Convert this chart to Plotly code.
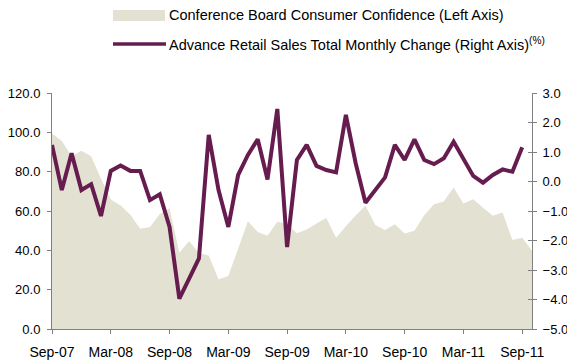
import plotly.graph_objects as go

months = ["Sep-07","Oct-07","Nov-07","Dec-07","Jan-08","Feb-08","Mar-08","Apr-08","May-08","Jun-08",
          "Jul-08","Aug-08","Sep-08","Oct-08","Nov-08","Dec-08","Jan-09","Feb-09","Mar-09","Apr-09",
          "May-09","Jun-09","Jul-09","Aug-09","Sep-09","Oct-09","Nov-09","Dec-09","Jan-10","Feb-10",
          "Mar-10","Apr-10","May-10","Jun-10","Jul-10","Aug-10","Sep-10","Oct-10","Nov-10","Dec-10",
          "Jan-11","Feb-11","Mar-11","Apr-11","May-11","Jun-11","Jul-11","Aug-11","Sep-11","Oct-11"]

confidence = [99.5, 95.6, 87.8, 90.6, 87.9, 76.4, 65.9, 62.8, 58.1, 51.0,
              51.9, 58.5, 61.4, 38.8, 44.7, 38.6, 37.4, 25.3, 26.9, 40.8,
              54.8, 49.3, 47.4, 54.5, 53.4, 48.7, 50.6, 53.6, 56.5, 46.4,
              52.3, 57.7, 62.7, 52.9, 50.4, 53.2, 48.6, 49.9, 57.8, 63.4,
              64.8, 72.0, 63.8, 66.0, 61.7, 57.6, 59.2, 45.2, 46.4, 39.8]

retail = [1.24, -0.29, 0.96, -0.29, -0.09, -1.17, 0.36, 0.54, 0.36, 0.36,
          -0.63, -0.43, -1.54, -3.97, -3.29, -2.61, 1.58, -0.29, -1.54, 0.22,
          0.90, 1.43, 0.07, 2.46, -2.22, 0.73, 1.24, 0.53, 0.39, 0.31,
          2.26, 0.62, -0.72, -0.27, 0.14, 1.24, 0.73, 1.43, 0.73, 0.59,
          0.79, 1.35, 0.79, 0.19, -0.04, 0.22, 0.41, 0.33, 1.16, None]

tick_idx = list(range(0, 49, 6))
tick_text = [months[i] for i in tick_idx]

W, H = 567, 364
L, R, T, B = 52, 35, 93, 35
FONT = "Liberation Sans, Arial, sans-serif"
AREA_C = "#E3E1D1"
LINE_C = "#661C4F"
AXIS_C = "#808080"

x = list(range(len(months)))

fig = go.Figure()
fig.add_trace(go.Scatter(x=x, y=confidence, fill="tozeroy", mode="none",
                         fillcolor=AREA_C, showlegend=False, hoverinfo="skip"))
fig.add_trace(go.Scatter(x=x, y=retail, mode="lines", yaxis="y2",
                         line=dict(color=LINE_C, width=4), showlegend=False))
# invisible trace to hold the inner tick marks of the right axis
fig.add_trace(go.Scatter(x=[None], y=[None], yaxis="y3", mode="lines",
                         showlegend=False, hoverinfo="skip"))

def px2x(p):
    return (p - L) / (W - L - R)

def px2y(p):
    return (H - B - p) / (H - T - B)

shapes = [
    dict(type="rect", xref="paper", yref="paper", x0=px2x(113), x1=px2x(165),
         y0=px2y(21), y1=px2y(10), fillcolor=AREA_C, line=dict(width=0)),
    dict(type="line", xref="paper", yref="paper", x0=px2x(113), x1=px2x(166),
         y0=px2y(44), y1=px2y(44), line=dict(color=LINE_C, width=3.5)),
]
annotations = [
    dict(xref="paper", yref="paper", x=px2x(167), y=px2y(15), xanchor="left", yanchor="middle",
         text="Conference Board Consumer Confidence (Left Axis)", showarrow=False,
         font=dict(size=14.5, color="#000")),
    dict(xref="paper", yref="paper", x=px2x(167), y=px2y(44), xanchor="left", yanchor="middle",
         text="Advance Retail Sales Total Monthly Change (Right Axis)<sup>(%)</sup>", showarrow=False,
         font=dict(size=14.5, color="#000")),
]

fig.update_layout(
    width=W, height=H,
    margin=dict(l=L, r=R, t=T, b=B, pad=0),
    paper_bgcolor="white", plot_bgcolor="white",
    font=dict(family=FONT, size=13, color="#000"),
    shapes=shapes, annotations=annotations,
    xaxis=dict(range=[0, 49], tickmode="array", tickvals=tick_idx, ticktext=tick_text,
               showgrid=False, zeroline=False, showline=True, linecolor=AXIS_C, linewidth=1,
               ticks="outside", ticklen=4, tickcolor=AXIS_C, ticklabelstandoff=6,
               tickfont=dict(size=14), automargin=False),
    yaxis=dict(range=[0, 120], dtick=20, tickformat=".1f", showgrid=False, zeroline=False,
               showline=True, linecolor=AXIS_C, linewidth=1, ticks="outside", ticklen=4,
               tickcolor=AXIS_C, ticklabelstandoff=4, automargin=False),
    yaxis2=dict(range=[-5, 3], dtick=1, tickformat=".1f", overlaying="y", side="right",
                showgrid=False, zeroline=False, showline=True, linecolor=AXIS_C, linewidth=1,
                ticks="outside", ticklen=4, tickcolor=AXIS_C, ticklabelstandoff=3,
                automargin=False),
    yaxis3=dict(range=[-5, 3], dtick=1, overlaying="y", side="right", showticklabels=False,
                showgrid=False, zeroline=False, showline=False, ticks="inside", ticklen=4,
                tickcolor=AXIS_C, automargin=False),
)

fig.write_html("out.html")
